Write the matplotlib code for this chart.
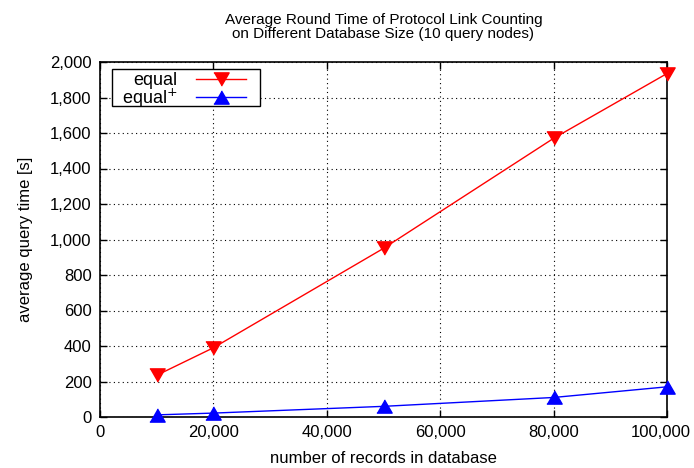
import matplotlib.pyplot as plt
from matplotlib.patches import Rectangle
from matplotlib.ticker import FuncFormatter, MultipleLocator

plt.rcParams['font.family'] = ['Liberation Sans', 'DejaVu Sans']

# data
records = [10000, 20000, 50000, 80000, 100000]
equal = [235, 390, 950, 1570, 1935]
equal_plus = [12, 22, 60, 110, 170]
names = ['equal', 'equal$^{+}$']

# gnuplot style equilateral triangles
tri_up = [(-1, -0.866), (1, -0.866), (0, 0.866)]
tri_down = [(-1, 0.866), (1, 0.866), (0, -0.866)]

fig = plt.figure(figsize=(6.94, 4.68), dpi=100)
ax = fig.add_axes([100 / 694, 51 / 468, 567 / 694, 355 / 468])

ax.plot(records, equal, color='red', lw=1, marker=tri_down, markersize=11,
        label=names[0], clip_on=False, zorder=3)
ax.plot(records, equal_plus, color='blue', lw=1, marker=tri_up, markersize=11,
        label=names[1], clip_on=False, zorder=3)

xmax = 100000
ax.set_xlim(0, xmax)
ax.set_ylim(0, 2000)
ax.xaxis.set_major_locator(MultipleLocator(20000))
ax.yaxis.set_major_locator(MultipleLocator(200))
comma = lambda v: f'{int(round(v)):,}'
# the last x label is drawn by hand, pulled in like gnuplot does
ax.xaxis.set_major_formatter(FuncFormatter(lambda v, p: '' if v >= xmax else comma(v)))
ax.yaxis.set_major_formatter(FuncFormatter(lambda v, p: comma(v)))
ax.tick_params(direction='in', top=True, right=True, length=5, width=1,
               labelsize=12, pad=6)
for s in ax.spines.values():
    s.set_linewidth(1.2)
    s.set_zorder(2.5)

ax.annotate(comma(xmax), xy=(xmax, 0), xycoords=('data', 'axes fraction'),
            xytext=(-6, -8), textcoords='offset pixels', ha='center', va='top',
            fontsize=12, annotation_clip=False)

ax.grid(True, color='black', linestyle=(0, (1, 3)), linewidth=0.8)

ax.set_xlabel('number of records in database', fontsize=12, labelpad=8)
ax.set_ylabel('average query time [s]', fontsize=12, labelpad=12)
ax.set_title('Average Round Time of Protocol Link Counting\n'
             'on Different Database Size (10 query nodes)', fontsize=11,
             pad=17, linespacing=1.05)

# gnuplot-like key: white box with wider side padding, legend on top
ax.add_patch(Rectangle((112 / 694, 1 - 106 / 468), 148 / 694, 37 / 468,
                       transform=fig.transFigure, facecolor='white',
                       edgecolor='black', lw=1, zorder=4))
leg = ax.legend(loc='upper left', bbox_to_anchor=(122 / 694, 1 - 72 / 468),
                bbox_transform=fig.transFigure, markerfirst=False,
                frameon=False, fontsize=13, handlelength=2.8,
                borderpad=0, labelspacing=-0.15, borderaxespad=0,
                handletextpad=1.0)
leg.set_zorder(5)
for t in leg.get_texts():
    t.set_ha('right')

fig.savefig('out.png', dpi=100)
